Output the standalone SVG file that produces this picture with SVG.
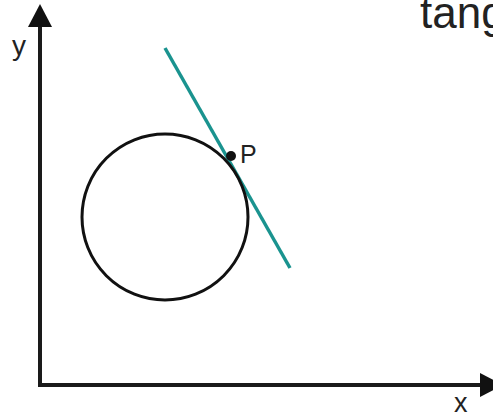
<svg xmlns="http://www.w3.org/2000/svg" width="493" height="415" viewBox="0 0 493 415">
<style>
.lbl{font-family:"Liberation Sans",Arial,sans-serif;fill:#222}
.axis{stroke:#1a1a1a;stroke-width:4;fill:none}
</style>
<rect width="493" height="415" fill="#fff"/>
<g id="connectors">
<line class="axis" x1="40" y1="387" x2="40" y2="26"/>
<path d="M28,27 L40,4 L52,27 z" fill="#111"/>
<line class="axis" x1="38" y1="385" x2="481" y2="385"/>
<path d="M480,373 L503,385 L480,397 z" fill="#111"/>
<line x1="165" y1="48" x2="290" y2="268" stroke="#1a938f" stroke-width="3.5"/>
</g>
<g id="circle">
<circle cx="165" cy="217" r="83" fill="none" stroke="#111" stroke-width="3"/>
</g>
<g id="point-P">
<circle cx="231" cy="156" r="5" fill="#111"/>
<text class="lbl" x="240" y="163" font-size="25">P</text>
</g>
<g id="labels">
<text class="lbl" x="12" y="55" font-size="28">y</text>
<text class="lbl" x="454" y="412" font-size="27">x</text>
<text class="lbl" x="420" y="28" font-size="44">tangent</text>
</g>
</svg>
